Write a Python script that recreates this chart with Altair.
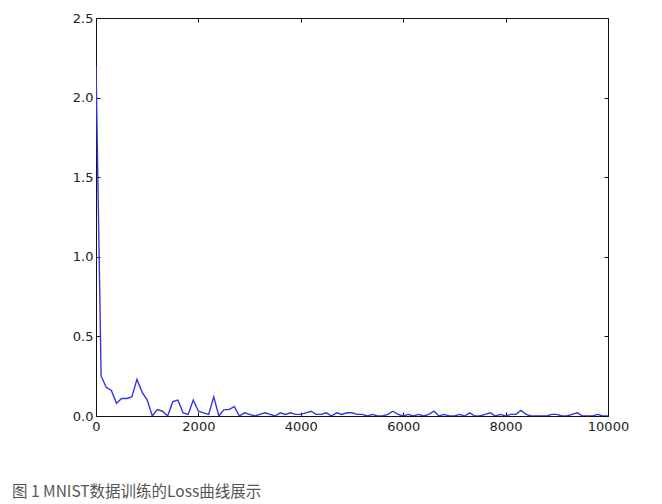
import altair as alt
import pandas as pd

steps = list(range(0, 10001, 100))
loss = [
    2.20, 0.25, 0.18, 0.16, 0.08, 0.11, 0.11, 0.12, 0.23, 0.15,
    0.10, 0.00, 0.04, 0.03, 0.00, 0.09, 0.10, 0.02, 0.01, 0.10,
    0.03, 0.02, 0.01, 0.12, 0.00, 0.04, 0.04, 0.06, 0.00, 0.02,
    0.01, 0.00, 0.01, 0.02, 0.01, 0.00, 0.02, 0.01, 0.02, 0.01,
    0.01, 0.02, 0.03, 0.01, 0.01, 0.02, 0.00, 0.02, 0.01, 0.02,
    0.02, 0.01, 0.01, 0.00, 0.01, 0.00, 0.00, 0.01, 0.03, 0.01,
    0.00, 0.01, 0.00, 0.01, 0.00, 0.01, 0.03, 0.00, 0.01, 0.00,
    0.00, 0.01, 0.00, 0.02, 0.00, 0.00, 0.01, 0.02, 0.00, 0.01,
    0.00, 0.01, 0.01, 0.035, 0.01, 0.00, 0.00, 0.00, 0.00, 0.01,
    0.01, 0.00, 0.00, 0.01, 0.02, 0.00, 0.00, 0.00, 0.01, 0.00,
    0.00,
]
x_ticks = [0, 2000, 4000, 6000, 8000, 10000]
y_ticks = [0.0, 0.5, 1.0, 1.5, 2.0, 2.5]
caption = ["图 1 MNIST数据训练的Loss曲线展示"]

df = pd.DataFrame({"step": steps, "loss": loss})
xs = alt.Scale(domain=[0, 10000], nice=False, zero=False)
ys = alt.Scale(domain=[0, 2.5], nice=False)

LF = "DejaVu Sans"
common = dict(domain=False, grid=False, title=None, tickSize=4, tickColor="#111",
              tickWidth=1, offset=-4, labelFlush=False, labelOverlap=False)

line = alt.Chart(df).mark_line(color="#3535e0", strokeWidth=1.4, clip=True).encode(
    x=alt.X("step:Q", scale=xs,
            axis=alt.Axis(orient="bottom", values=x_ticks, format="d",
                          labelPadding=4, labelFont=LF, labelFontSize=13,
                          labelColor="#222", **common)),
    y=alt.Y("loss:Q", scale=ys,
            axis=alt.Axis(orient="left", values=y_ticks, format=".1f",
                          labelPadding=3, labelFont=LF, labelFontSize=13,
                          labelColor="#222", **common)),
)

ticks2 = alt.Chart(df).mark_line(opacity=0).encode(
    x=alt.X("step:Q", scale=xs,
            axis=alt.Axis(orient="top", values=x_ticks, labels=False, **common)),
    y=alt.Y("loss:Q", scale=ys,
            axis=alt.Axis(orient="right", values=y_ticks, labels=False, **common)),
)

cap = alt.Chart(pd.DataFrame({"t": caption})).mark_text(
    align="left", baseline="middle", x=-84, y=474,
    font="Noto Sans CJK SC", fontSize=15.5, color="#555"
).encode(text="t:N")

chart = alt.layer(line, ticks2, cap).resolve_axis(
    x="independent", y="independent"
).properties(
    width=512, height=398,
    background="white",
    autosize=alt.AutoSizeParams(type="none"),
    padding={"left": 88, "top": 10, "right": 40, "bottom": 86},
).configure_view(stroke="#111", strokeWidth=1)

chart.save("out.html", embed_options={"renderer": "svg", "actions": False})
